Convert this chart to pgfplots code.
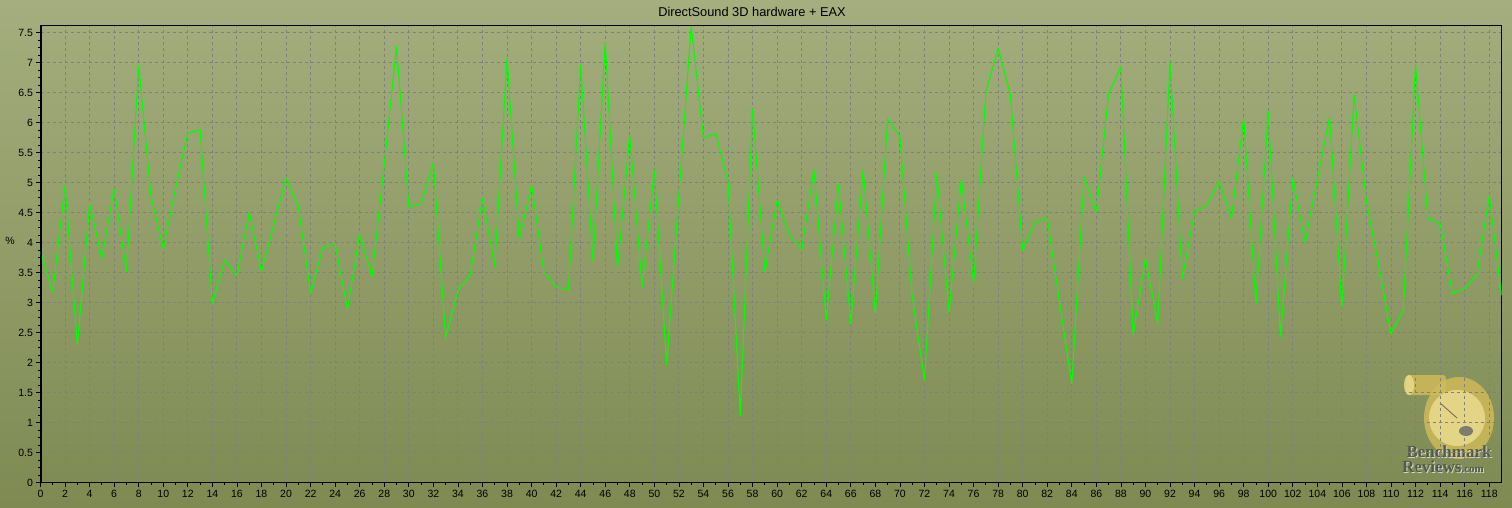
\documentclass[border=0pt]{standalone}
\usepackage{fontspec}
\setmainfont{Liberation Sans}
\newfontfamily\logofont{Liberation Serif}
\usepackage{pgfplots}
\pgfplotsset{compat=1.18}

\definecolor{bgtop}{RGB}{164,174,126}
\definecolor{bgbot}{RGB}{126,138,82}
\definecolor{gridc}{RGB}{128,128,128}
\definecolor{linec}{RGB}{0,255,0}
\definecolor{gold}{RGB}{212,188,88}
\definecolor{goldl}{RGB}{236,222,146}
\definecolor{logotxt}{RGB}{84,90,72}

\pgfplotstableread{
x y
0 3.85
1 3.18
2 4.96
3 2.29
4 4.64
5 3.74
6 4.90
7 3.52
8 6.95
9 4.77
10 3.90
11 4.90
12 5.82
13 5.88
14 2.99
15 3.71
16 3.45
17 4.50
18 3.52
19 4.30
20 5.08
21 4.60
22 3.16
23 3.92
24 3.97
25 2.89
26 4.14
27 3.43
28 5.30
29 7.27
30 4.60
31 4.64
32 5.33
33 2.41
34 3.21
35 3.46
36 4.74
37 3.60
38 7.07
39 4.05
40 4.96
41 3.51
42 3.26
43 3.21
44 6.96
45 3.68
46 7.34
47 3.57
48 5.79
49 3.26
50 5.21
51 1.96
52 4.80
53 7.60
54 5.74
55 5.82
56 5.01
57 1.12
58 6.23
59 3.51
60 4.71
61 4.12
62 3.89
63 5.22
64 2.71
65 4.97
66 2.65
67 5.22
68 2.82
69 6.07
70 5.76
71 3.10
72 1.71
73 5.15
74 2.84
75 5.06
76 3.32
77 6.50
78 7.24
79 6.46
80 3.87
81 4.34
82 4.41
83 3.00
84 1.65
85 5.09
86 4.51
87 6.48
88 6.93
89 2.46
90 3.73
91 2.65
92 7.01
93 3.40
94 4.51
95 4.62
96 5.02
97 4.40
98 6.07
99 2.98
100 6.18
101 2.43
102 5.07
103 4.00
104 5.05
105 6.09
106 2.92
107 6.46
108 4.68
109 3.62
110 2.48
111 2.87
112 6.96
113 4.41
114 4.32
115 3.15
116 3.23
117 3.46
118 4.79
119 3.12
}\cpudata

\begin{document}
\begin{tikzpicture}[x=1pt,y=1pt]
\shade[top color=bgtop,bottom color=bgbot] (0,0) rectangle (1512,507);
\useasboundingbox (0,0) rectangle (1512,507);
% watermark logo (behind the plot)
\begin{scope}[opacity=0.8]
\fill[gold,rounded corners=3pt] (1406,112) rectangle (1446,132);
\fill[goldl] (1409,122) ellipse (5 and 10);
\fill[gold] (1459,89) ellipse (35 and 41);
\fill[goldl] (1457,89) circle (28);
\draw[gray!60!black,line width=0.8pt] (1457,89) -- (1440,104);
\fill[black!60] (1466,76) ellipse (7 and 5);
\end{scope}
\node[font=\logofont\bfseries\fontsize{17}{17}\selectfont,text=white!75!logotxt] at (1450,54) {Benchmark};
\node[font=\logofont\bfseries\fontsize{17}{17}\selectfont,text=logotxt] at (1449,55) {Benchmark};
\node[font=\logofont\bfseries\fontsize{17}{17}\selectfont,text=white!75!logotxt] at (1444,39) {Reviews\fontsize{11}{11}\selectfont.com};
\node[font=\logofont\bfseries\fontsize{17}{17}\selectfont,text=logotxt] at (1443,40) {Reviews\fontsize{11}{11}\selectfont.com};
\begin{axis}[
  at={(40.5pt,24.3pt)}, anchor=south west,
  scale only axis, width=1461pt, height=457.4pt,
  xmin=0, xmax=119, ymin=0, ymax=7.62,
  xtick={0,2,...,118},
  ytick={0,0.5,1,1.5,2,2.5,3,3.5,4,4.5,5,5.5,6,6.5,7,7.5},
  minor y tick num=3, minor x tick num=1,
  tick pos=left, tick align=outside,
  major tick length=4pt, minor tick length=2pt,
  grid=major,
  major grid style={gridc, dash pattern=on 3pt off 3pt, line width=0.9pt},
  axis line style={black, line width=1pt},
  tick style={black, line width=0.8pt},
  ticklabel style={font=\fontsize{10.5}{12}\selectfont},
  /pgf/number format/assume math mode=true,
  clip=true,
]
\addplot[linec, line width=1.1pt, line join=round] table[x=x,y=y] {\cpudata};
\draw[black, line width=2pt] (rel axis cs:0,0) -- (rel axis cs:0,1);
\draw[black, line width=2pt] (rel axis cs:0,0) -- (rel axis cs:1,0);
\end{axis}
\node[font=\fontsize{12.8}{14}\selectfont] at (752,495) {DirectSound 3D hardware + EAX};
\node[font=\fontsize{10.5}{12}\selectfont] at (10,266) {\%};
\end{tikzpicture}
\end{document}
